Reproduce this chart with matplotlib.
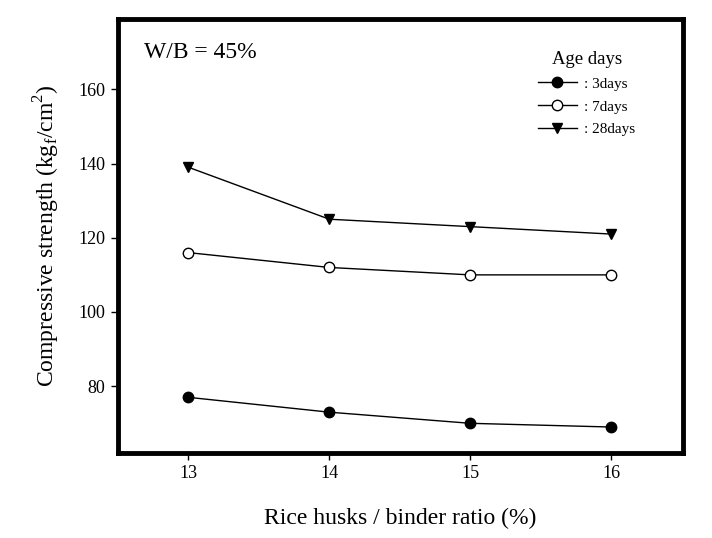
import matplotlib
matplotlib.use("Agg")
import matplotlib.pyplot as plt

ratio = [13, 14, 15, 16]
days3 = [77, 73, 70, 69]
days7 = [116, 112, 110, 110]
days28 = [139, 125, 123, 121]
labels = [": 3days", ": 7days", ": 28days"]

plt.rcParams['font.family'] = ['Liberation Serif', 'DejaVu Serif']

fig = plt.figure(figsize=(7.12, 5.38), dpi=100)
ax = fig.add_axes([0.1657, 0.158, 0.7935, 0.807])

ax.plot(ratio, days3, color='black', lw=1, marker='o', ms=7.5, mfc='black', label=labels[0])
ax.plot(ratio, days7, color='black', lw=1, marker='o', ms=7.5, mfc='white', label=labels[1])
ax.plot(ratio, days28, color='black', lw=1, marker='v', ms=7, mfc='black', label=labels[2])

ax.set_xlim(12.5, 16.51)
ax.set_ylim(62, 179)
ax.set_xticks(ratio)
ax.set_yticks([80, 100, 120, 140, 160])
ax.tick_params(direction='out', length=5, width=1, labelsize=13, pad=4)
for s in ax.spines.values():
    s.set_linewidth(3.5)

ax.set_xlabel("Rice husks / binder ratio (%)", fontsize=17, labelpad=18)
ax.set_ylabel(r"Compressive strength (kg$_\mathregular{f}$/cm$^\mathregular{2}$)", fontsize=17, labelpad=12)

ax.text(0.046, 0.947, "W/B = 45%", transform=ax.transAxes, fontsize=17, va='top', ha='left')

leg = ax.legend(loc='upper right', bbox_to_anchor=(0.94, 0.958), frameon=False,
                title="Age days", fontsize=11, title_fontsize=13.5,
                handlelength=2.5, handletextpad=0.5, labelspacing=0.6)
leg._legend_box.align = "center"

fig.savefig("out.png", dpi=100)
